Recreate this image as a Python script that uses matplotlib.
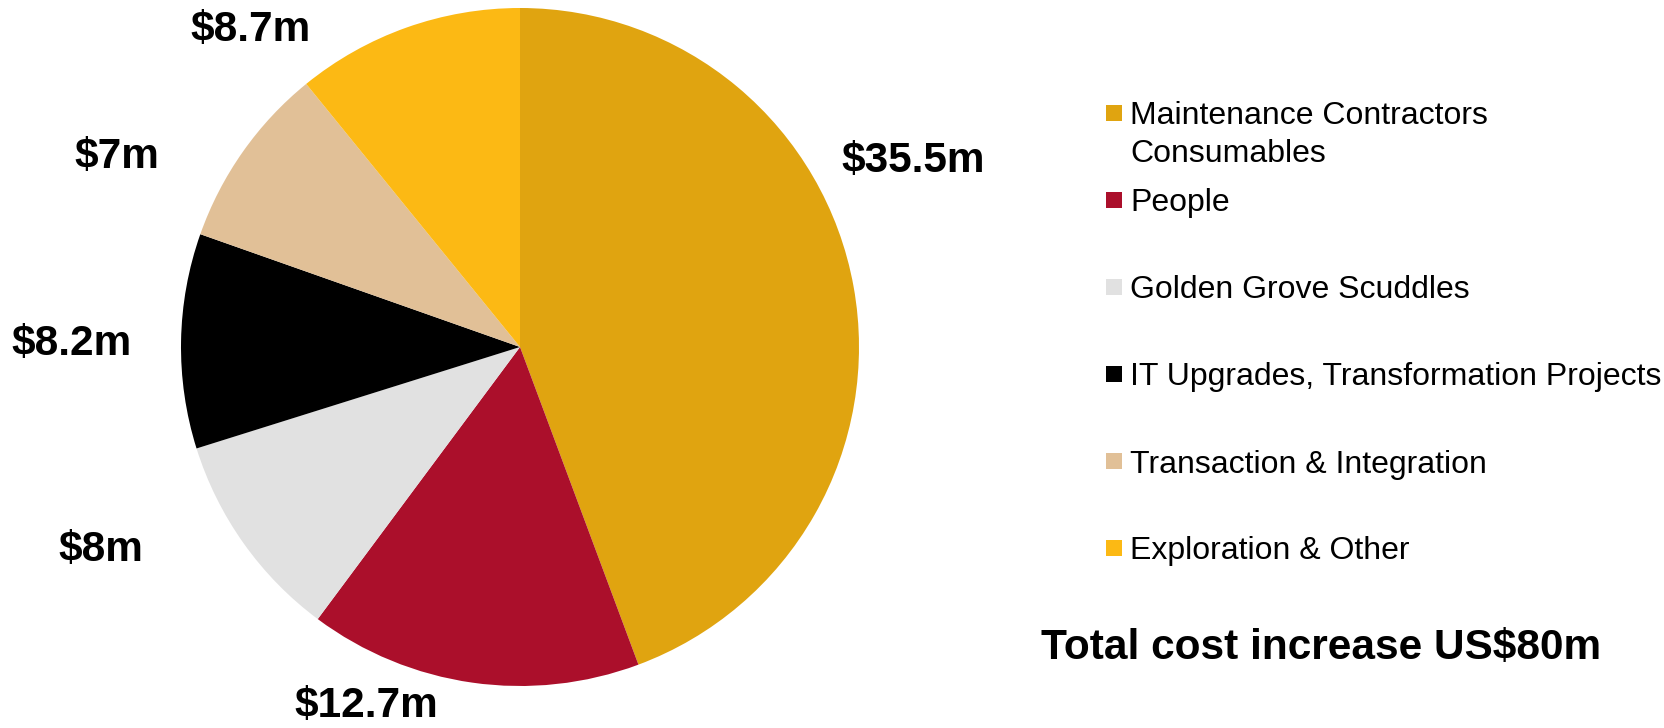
import matplotlib
matplotlib.use("Agg")
import matplotlib.pyplot as plt
from matplotlib.patches import Rectangle

plt.rcParams['font.family'] = ['Liberation Sans', 'DejaVu Sans']

# data
categories = ["Maintenance Contractors\nConsumables", "People", "Golden Grove Scuddles",
              "IT Upgrades, Transformation Projects", "Transaction & Integration",
              "Exploration & Other"]
values = [35.5, 12.7, 8.0, 8.2, 7.0, 8.7]
value_labels = ["$35.5m", "$12.7m", "$8m", "$8.2m", "$7m", "$8.7m"]
colors = ["#E0A410", "#AB0F2B", "#E1E1E1", "#000000", "#E1C097", "#FCB914"]
total_text = "Total cost increase US$80m"

# label positions (in pie radius units)
label_pos = [(1.159, 0.549), (-0.454, -1.059), (-1.236, -0.599),
             (-1.322, 0.009), (-1.189, 0.560), (-0.796, 0.935)]

W, H = 1665, 728
fig = plt.figure(figsize=(W / 100, H / 100), dpi=100)

# pie
ax = fig.add_axes([181 / W, 42 / H, 678 / W, 678 / H])
ax.pie(values, colors=colors, startangle=90, counterclock=False,
       radius=1.0, wedgeprops=dict(linewidth=0))
ax.set_xlim(-1, 1)
ax.set_ylim(-1, 1)
ax.set_aspect("equal")
ax.set_axis_off()
for (x, y), lab in zip(label_pos, value_labels):
    ax.text(x, y, lab, ha="center", va="center", fontsize=30.5,
            fontweight="bold", clip_on=False)

# legend drawn in pixel space
lax = fig.add_axes([0, 0, 1, 1])
lax.set_xlim(0, W)
lax.set_ylim(H, 0)
lax.set_axis_off()
lax.patch.set_alpha(0)

row_y = [113, 200, 287, 374, 461, 548]
for yc, cat, col in zip(row_y, categories, colors):
    lax.add_patch(Rectangle((1106, yc - 8), 16, 16, facecolor=col, edgecolor="none"))
    for k, line in enumerate(cat.split("\n")):
        lax.text(1130, yc + 11.5 + k * 37, line, ha="left", va="baseline",
                 fontsize=23, color="#000000")

lax.text(1321, 659, total_text, ha="center", va="baseline",
         fontsize=30.5, fontweight="bold")

fig.savefig("out.png", dpi=100)
